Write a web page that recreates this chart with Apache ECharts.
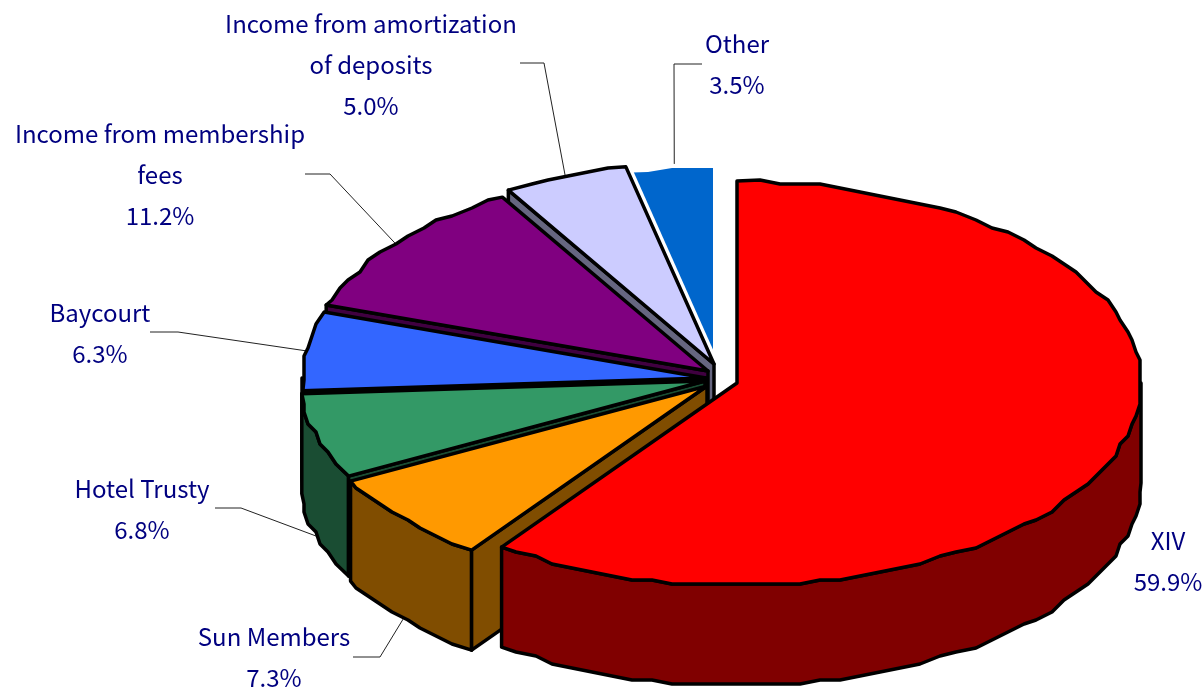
<!DOCTYPE html>
<html><head><meta charset="utf-8">
<style>html,body{margin:0;padding:0;background:#fff}#c{width:1202px;height:688px}</style>
<script src="https://cdn.jsdelivr.net/npm/echarts@6/dist/echarts.min.js"></script>
</head><body><div id="c"></div>
<script>
const categories = ['XIV','Sun Members','Hotel Trusty','Baycourt','Income from membership\nfees','Income from amortization\nof deposits','Other'];
const shares = [59.9,7.3,6.8,6.3,11.2,5.0,3.5];
const topColors = ['#FF0000','#FF9900','#339966','#3366FF','#800080','#CCCCFF','#0066CC'];
const wallColors = ['#800000','#804D00','#1A4D33','#1A3380','#400040','#666680','#003366'];
// Where each exploded slice's apex sits, and the shape of the tilted disc
const apexX = [737,707,705,706,708,714,713];
const apexY = [383,386,381,378,371,364,370];
const RX = 404, RY = 202, DEPTH = 100, STEP = 3, GRID = 4;
// Label anchor (centre x, first line centre y), leader elbow start and bend
const labelX = [1168,274,142,100,160,371,737];
const labelY = [541,637,489,313,134,24,44];
const leaderFromX = [null,353,215,150,305,520,702];
const leaderBendX = [null,380,241,178,330,544,674];
const leaderY = [null,657,508,332,174,63,64];
const leaderShift = [0,0,0,0,0,0,0.8];
const leaderLift = [0,0,0,0,0,0,5];

const total = shares.reduce((a,b)=>a+b,0);
const starts = []; let acc = 0;
shares.forEach(v=>{ starts.push(acc/total*360); acc += v; });
const rad = d=>d*Math.PI/180;
function rimPt(i,t){ return [apexX[i]+RX*Math.sin(rad(t)), apexY[i]-RY*Math.cos(rad(t))]; }
function arc(i,a,b){
  const pts=[rimPt(i,a)];
  for(let t=Math.ceil(a/STEP+0.4)*STEP;t<b-STEP*0.4;t+=STEP){
    const p=rimPt(i,t);
    pts.push([Math.round(p[0]/GRID)*GRID,Math.round(p[1]/GRID)*GRID]);
  }
  pts.push(rimPt(i,b));
  return pts;
}
const edge = {stroke:'#000',lineWidth:3.5,lineJoin:'round'};
function poly(points,fill,noStroke){
  return {type:'polygon',shape:{points},style:noStroke?{fill,stroke:null}:Object.assign({fill},edge)};
}
function renderSlice(params,api){
  const i=api.value(0), a=starts[i], b=a+shares[i]/total*360;
  const kids=[];
  const apex=[apexX[i],apexY[i]];
  const last=categories.length-1;
  const drawnWall=i!==last;
  // white gap left between the last slice and its neighbour
  if(i===last-1){
    kids.push({type:'polyline',shape:{points:[apex,rimPt(i,b)]},style:{fill:null,stroke:'#fff',lineWidth:10}});
  }
  // outer wall: only the part of the rim facing the viewer
  const wa=Math.max(a,90), wb=Math.min(b,270);
  if(wa<wb){
    const r=arc(i,wa,wb);
    const low=r.map(p=>[p[0],p[1]+DEPTH]).reverse();
    kids.push(poly(r.concat(low),wallColors[i]));
  }
  // cut face along the starting radius
  if(a>=90 && drawnWall){
    const p=rimPt(i,a);
    kids.push(poly([apex,p,[p[0],p[1]+DEPTH],[apex[0],apex[1]+DEPTH]],wallColors[i]));
  }
  kids.push(poly([apex].concat(arc(i,a,b)),topColors[i],!drawnWall));
  return {type:'group',children:kids};
}
function renderLabel(params,api){
  const i=api.value(0), kids=[];
  const txt=categories[i]+'\n'+shares[i].toFixed(1)+'%';
  kids.push({type:'text',style:{text:txt,x:labelX[i],y:labelY[i]-20,align:'center',verticalAlign:'top',
    fill:'#000080',font:'24px "Noto Sans CJK JP"',lineHeight:40.7}});
  if(leaderFromX[i]!==null){
    const mid=starts[i]+shares[i]/total*180+leaderShift[i];
    const p=rimPt(i,mid);
    const front=mid<270;
    const end=[p[0],p[1]+(front?DEPTH:0)-leaderLift[i]];
    kids.push({type:'polyline',shape:{points:[[leaderFromX[i],leaderY[i]],[leaderBendX[i],leaderY[i]],end]},
      style:{fill:null,stroke:'#222',lineWidth:1}});
  }
  return {type:'group',children:kids};
}
const order=categories.map((c,i)=>i).reverse();
const chart=echarts.init(document.getElementById('c'));
chart.setOption({
  animation:false,backgroundColor:'#fff',
  series:[
    {type:'custom',coordinateSystem:'none',renderItem:renderLabel,data:order.map(i=>[i,shares[i]]),z:1,silent:true},
    {type:'custom',coordinateSystem:'none',renderItem:renderSlice,data:order.map(i=>[i,shares[i]]),z:2,silent:true}
  ]
});
</script></body></html>
